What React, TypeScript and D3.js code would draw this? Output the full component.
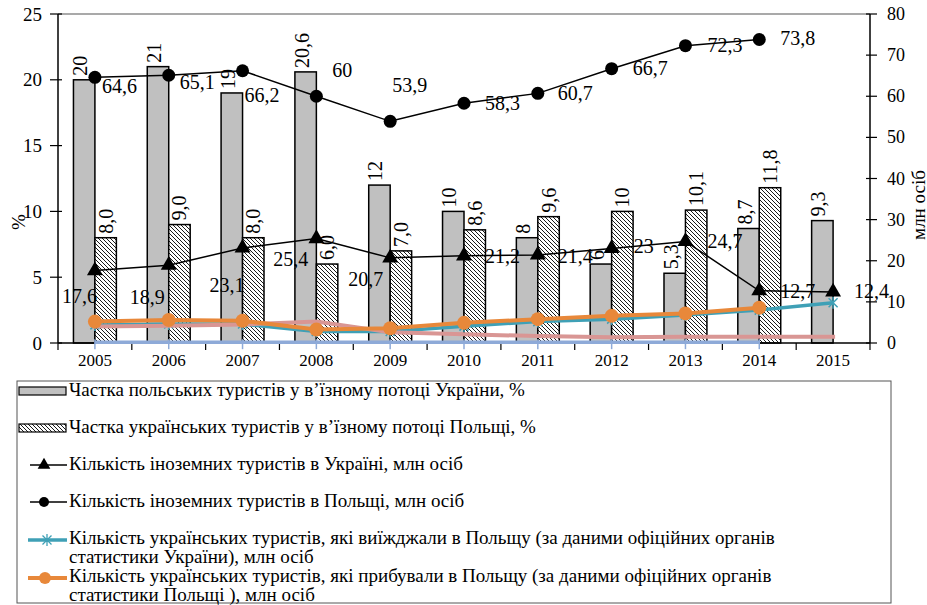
import React from 'react';
import * as d3 from 'd3';

// ---------- data ----------
const years = ['2005', '2006', '2007', '2008', '2009', '2010', '2011', '2012', '2013', '2014', '2015'];

// left axis (%)
const polishShareInUkraine = [20, 21, 19, 20.6, 12, 10, 8, 6, 5.3, 8.7, 9.3];
const polishShareLabels = ['20', '21', '19', '20,6', '12', '10', '8', '6', '5,3', '8,7', '9,3'];
const ukrainianShareInPoland: (number | null)[] = [8.0, 9.0, 8.0, 6.0, 7.0, 8.6, 9.6, 10, 10.1, 11.8, null];
const ukrainianShareLabels: (string | null)[] = ['8,0', '9,0', '8,0', '6,0', '7,0', '8,6', '9,6', '10', '10,1', '11,8', null];

// right axis (mln persons)
const foreignInUkraine = [17.6, 18.9, 23.1, 25.4, 20.7, 21.2, 21.4, 23, 24.7, 12.7, 12.4];
const foreignInPoland: (number | null)[] = [64.6, 65.1, 66.2, 60, 53.9, 58.3, 60.7, 66.7, 72.3, 73.8, null];
const ukrToPolandUaStats = [4.4, 4.6, 4.6, 2.8, 2.8, 4.1, 5.2, 5.8, 6.8, 8.0, 9.8];
const ukrToPolandPlStats: (number | null)[] = [5.2, 5.6, 5.4, 3.3, 3.6, 4.9, 5.8, 6.6, 7.2, 8.6, null];
const pinkSeries = [4.0, 4.2, 4.5, 5.2, 2.6, 2.1, 1.7, 1.4, 1.5, 1.5, 1.5];
const lightBlueSeries: (number | null)[] = [0.2, 0.2, 0.2, 0.2, 0.2, 0.2, 0.2, 0.2, 0.2, 0.2, null];

const leftTicks = [0, 5, 10, 15, 20, 25];
const rightTicks = [0, 10, 20, 30, 40, 50, 60, 70, 80];

const legendItems = [
  ['Частка польських туристів у в’їзному потоці України, %'],
  ['Частка українських  туристів у в’їзному потоці Польщі, %'],
  ['Кількість іноземних туристів  в Україні, млн осіб'],
  ['Кількість іноземних туристів  в Польщі, млн осіб'],
  ['Кількість українських  туристів, які виїжджали в Польщу (за даними офіційних органів', 'статистики України), млн осіб'],
  ['Кількість українських  туристів, які прибували в Польщу (за даними офіційних органів', 'статистики Польщі ), млн осіб'],
];

// ---------- layout (label nudges, not data) ----------
type LP = { dx: number; dy: number; anchor: 'start' | 'end' };
const circleLabelPos: LP[] = [
  { dx: 7, dy: 16, anchor: 'start' }, { dx: 11, dy: 14, anchor: 'start' }, { dx: 2, dy: 31, anchor: 'start' },
  { dx: 16, dy: -19, anchor: 'start' }, { dx: 2, dy: -29, anchor: 'start' }, { dx: 21, dy: 7, anchor: 'start' },
  { dx: 20, dy: 7, anchor: 'start' }, { dx: 21, dy: 6, anchor: 'start' }, { dx: 22, dy: 6, anchor: 'start' },
  { dx: 21, dy: 6, anchor: 'start' },
];
const triangleLabelPos: LP[] = [
  { dx: 2, dy: 32, anchor: 'end' }, { dx: -4, dy: 39, anchor: 'end' }, { dx: 2, dy: 44, anchor: 'end' },
  { dx: -8, dy: 27, anchor: 'end' }, { dx: -7, dy: 28, anchor: 'end' }, { dx: 21, dy: 7, anchor: 'start' },
  { dx: 20, dy: 8, anchor: 'start' }, { dx: 22, dy: 5, anchor: 'start' }, { dx: 22, dy: 7, anchor: 'start' },
  { dx: 21, dy: 7, anchor: 'start' }, { dx: 21, dy: 6, anchor: 'start' },
];

const FONT = '"Liberation Serif", "Times New Roman", "DejaVu Serif", serif';
const ORANGE = '#e8883a';
const TEAL = '#3fa0b6';
const PINK = '#d99694';
const LIGHTBLUE = '#8eaad8';

const fmt = (v: number) => String(v).replace('.', ',');

export default function App() {
  const W = 927, H = 605;
  const x0 = 58, x1 = 870, yb = 343, yt = 14;

  const x = d3.scaleBand<string>().domain(years).range([x0, x1]).paddingInner(0).paddingOuter(0);
  const sub = d3.scaleBand<string>().domain(['pl', 'ua']).range([0, x.bandwidth()]).paddingInner(0).paddingOuter(0.72);
  const yL = d3.scaleLinear().domain([0, 25]).range([yb, yt]);
  const yR = d3.scaleLinear().domain([0, 80]).range([yb, yt]);
  const cx = (i: number) => (x(years[i]) as number) + x.bandwidth() / 2;

  const mkLine = (vals: (number | null)[]) =>
    d3.line<number | null>()
      .defined((d) => d != null)
      .x((_, i) => cx(i))
      .y((d) => yR(d as number))(vals) || '';

  const tri = d3.symbol(d3.symbolTriangle, 110)() || '';
  const star = (r: number) => `M0,${-r}L0,${r}M${-r * 0.75},${-r * 0.75}L${r * 0.75},${r * 0.75}M${-r * 0.75},${r * 0.75}L${r * 0.75},${-r * 0.75}`;

  const legendBaselines = [396, 433, 470, 507, 544, 582];
  const legendSym = [391, 428, 465, 502, 540, 578];
  const ts = { fontFamily: FONT };

  return (
    <svg width={W} height={H} style={{ position: 'absolute', left: 0, top: 0, background: '#fff', fontFamily: FONT }}>
      <defs>
        <pattern id="hatch" patternUnits="userSpaceOnUse" width="4" height="4">
          <rect width="4" height="4" fill="#fff" />
          <path d="M-1,-1L5,5M-1,3L1,5M3,-1L5,1" stroke="#000" strokeWidth="0.9" />
        </pattern>
      </defs>
      <rect width={W} height={H} fill="#fff" />

      {/* frame */}
      <line x1={x0} x2={x1} y1={yt} y2={yt} stroke="#8c8c8c" strokeWidth={1.5} />

      {/* bars */}
      {years.map((yr, i) => {
        const bx = x(yr) as number;
        const v = polishShareInUkraine[i];
        return (
          <rect key={'g' + yr} x={bx + (sub('pl') as number)} y={yL(v)} width={sub.bandwidth()} height={yb - yL(v)}
            fill="#c0c0c0" stroke="#000" strokeWidth={1.5} />
        );
      })}
      {years.map((yr, i) => {
        const v = ukrainianShareInPoland[i];
        if (v == null) return null;
        const bx = x(yr) as number;
        return (
          <rect key={'h' + yr} x={bx + (sub('ua') as number)} y={yL(v)} width={sub.bandwidth()} height={yb - yL(v)}
            fill="url(#hatch)" stroke="#000" strokeWidth={1.5} />
        );
      })}

      {/* bar labels */}
      {years.map((yr, i) => {
        const v = polishShareInUkraine[i];
        const lx = (x(yr) as number) + (sub('pl') as number) + sub.bandwidth() / 2 - 4;
        const ly = yL(v) - 4;
        return (
          <text key={'gl' + yr} style={ts} transform={`translate(${lx},${ly}) rotate(-90)`} fontSize={20} dominantBaseline="central">
            {polishShareLabels[i]}
          </text>
        );
      })}
      {years.map((yr, i) => {
        const v = ukrainianShareInPoland[i];
        if (v == null) return null;
        const lx = (x(yr) as number) + (sub('ua') as number) + sub.bandwidth() / 2;
        const ly = yL(v) - 4;
        return (
          <text key={'hl' + yr} style={ts} transform={`translate(${lx},${ly}) rotate(-90)`} fontSize={20} dominantBaseline="central">
            {ukrainianShareLabels[i]}
          </text>
        );
      })}

      {/* axes */}
      <line x1={x0} x2={x0} y1={yt} y2={yb} stroke="#000" strokeWidth={1.5} />
      <line x1={x1} x2={x1} y1={yt} y2={yb} stroke="#000" strokeWidth={1.5} />
      <line x1={x0} x2={x1} y1={yb} y2={yb} stroke="#000" strokeWidth={1.5} />
      {leftTicks.map((t) => (
        <g key={'lt' + t}>
          <line x1={x0 - 8} x2={x0 + 4} y1={yL(t)} y2={yL(t)} stroke="#000" strokeWidth={1.2} />
          <text style={ts} x={x0 - 16} y={yL(t)} textAnchor="end" dominantBaseline="central" fontSize={19}>{t}</text>
        </g>
      ))}
      {rightTicks.map((t) => (
        <g key={'rt' + t}>
          <line x1={x1 - 4} x2={x1 + 7} y1={yR(t)} y2={yR(t)} stroke="#000" strokeWidth={1.2} />
          <text style={ts} x={x1 + 17} y={yR(t)} dominantBaseline="central" fontSize={18}>{t}</text>
        </g>
      ))}
      {d3.range(years.length + 1).map((k) => {
        const tx = x0 + k * x.step();
        return <line key={'xt' + k} x1={tx} x2={tx} y1={yb} y2={yb + 7} stroke="#000" strokeWidth={1.2} />;
      })}
      {years.map((yr, i) => (
        <text key={'xl' + yr} style={ts} x={cx(i)} y={366} textAnchor="middle" fontSize={17}>{yr}</text>
      ))}
      <text style={ts} transform="translate(18,222) rotate(-90)" textAnchor="middle" dominantBaseline="central" fontSize={19}>%</text>
      <text style={ts} transform="translate(918,205) rotate(-90)" textAnchor="middle" dominantBaseline="central" fontSize={19}>млн осіб</text>

      {/* colored lines */}
      <path d={mkLine(lightBlueSeries)} fill="none" stroke={LIGHTBLUE} strokeWidth={3.5} />
      {lightBlueSeries.map((v, i) => v == null ? null : (
        <line key={'lb' + i} x1={cx(i)} x2={cx(i)} y1={yR(v) - 3} y2={yR(v) + 7} stroke={LIGHTBLUE} strokeWidth={1.5} />
      ))}
      <path d={mkLine(ukrToPolandUaStats)} fill="none" stroke={TEAL} strokeWidth={3.5} />
      {ukrToPolandUaStats.map((v, i) => (
        <path key={'st' + i} d={star(6)} transform={`translate(${cx(i)},${yR(v)})`} stroke={TEAL} strokeWidth={1.5} fill="none" />
      ))}
      <path d={mkLine(pinkSeries)} fill="none" stroke={PINK} strokeWidth={4} strokeLinecap="square" />
      <path d={mkLine(ukrToPolandPlStats)} fill="none" stroke={ORANGE} strokeWidth={4} />
      {ukrToPolandPlStats.map((v, i) => v == null ? null : (
        <circle key={'oc' + i} cx={cx(i)} cy={yR(v)} r={7} fill={ORANGE} />
      ))}

      {/* black lines */}
      <path d={mkLine(foreignInUkraine)} fill="none" stroke="#000" strokeWidth={1.5} />
      {foreignInUkraine.map((v, i) => (
        <path key={'tr' + i} d={tri} transform={`translate(${cx(i)},${yR(v)})`} fill="#000" />
      ))}
      <path d={mkLine(foreignInPoland)} fill="none" stroke="#000" strokeWidth={1.5} />
      {foreignInPoland.map((v, i) => v == null ? null : (
        <circle key={'bc' + i} cx={cx(i)} cy={yR(v)} r={6.5} fill="#000" />
      ))}

      {/* line labels */}
      {foreignInUkraine.map((v, i) => {
        const p = triangleLabelPos[i];
        return (
          <text key={'tl' + i} style={ts} x={cx(i) + p.dx} y={yR(v) + p.dy} textAnchor={p.anchor} fontSize={20}>{fmt(v)}</text>
        );
      })}
      {foreignInPoland.map((v, i) => {
        if (v == null) return null;
        const p = circleLabelPos[i];
        return (
          <text key={'cl' + i} style={ts} x={cx(i) + p.dx} y={yR(v) + p.dy} textAnchor={p.anchor} fontSize={20}>{fmt(v)}</text>
        );
      })}

      {/* legend */}
      <rect x={17} y={381} width={874} height={222} fill="#fff" stroke="#555" strokeWidth={1} />
      <rect x={19} y={legendSym[0] - 4} width={47} height={8} fill="#c0c0c0" stroke="#000" strokeWidth={1.2} />
      <rect x={19} y={legendSym[1] - 4} width={47} height={8} fill="url(#hatch)" stroke="#000" strokeWidth={1.2} />
      <line x1={30} x2={67} y1={legendSym[2]} y2={legendSym[2]} stroke="#000" strokeWidth={1.5} />
      <path d={d3.symbol(d3.symbolTriangle, 70)() || ''} transform={`translate(44,${legendSym[2]})`} fill="#000" />
      <line x1={30} x2={67} y1={legendSym[3]} y2={legendSym[3]} stroke="#000" strokeWidth={1.5} />
      <circle cx={44} cy={legendSym[3]} r={5} fill="#000" />
      <line x1={28} x2={67} y1={legendSym[4]} y2={legendSym[4]} stroke={TEAL} strokeWidth={3.5} />
      <path d={star(6)} transform={`translate(47,${legendSym[4]})`} stroke={TEAL} strokeWidth={1.3} fill="none" />
      <line x1={28} x2={67} y1={legendSym[5]} y2={legendSym[5]} stroke={ORANGE} strokeWidth={4} />
      <circle cx={45} cy={legendSym[5]} r={6} fill={ORANGE} />
      {legendItems.map((lines, i) => (
        <text key={'lg' + i} style={ts} x={69} y={legendBaselines[i]} fontSize={19}>
          {lines.map((ln, k) => (
            <tspan key={k} x={69} dy={k === 0 ? 0 : 19}>{ln}</tspan>
          ))}
        </text>
      ))}
    </svg>
  );
}
